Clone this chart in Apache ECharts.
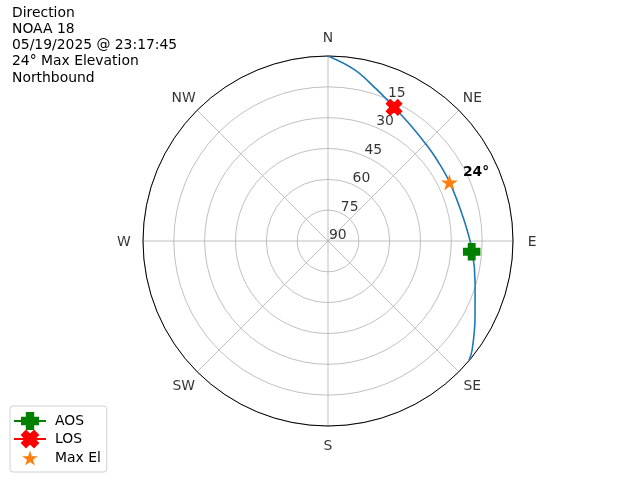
<!DOCTYPE html>
<html>
<head>
<meta charset="utf-8">
<script src="https://cdn.jsdelivr.net/npm/echarts@6/dist/echarts.min.js"></script>
<style>html,body{margin:0;padding:0;background:#fff}#c{width:640px;height:480px}</style>
</head>
<body>
<div id="c"></div>
<script>
// ---- data ----
const titleLines = ['Direction', 'NOAA 18', '05/19/2025 @ 23:17:45', '24° Max Elevation', 'Northbound'];
const directions = ['N', 'NE', 'E', 'SE', 'S', 'SW', 'W', 'NW'];
const directionAngles = [0, 45, 90, 135, 180, 225, 270, 315];
const radialTicks = [15, 30, 45, 60, 75, 90];
const trackAz = [0, 9, 17.1, 25.2, 36.4, 46.8, 53.4, 64.6, 79.9, 93.6, 105.9, 117.3, 127.1, 130.2];
const trackEl = [0, 5.8, 12.1, 16.9, 21.1, 23.2, 23.9, 24.3, 23.3, 19.8, 15.6, 9.5, 2.1, 0.2];
const markerNames = ['AOS', 'LOS', 'Max El'];
const markerAz = [94.3, 26.3, 64.2];
const markerEl = [19.9, 17.5, 24.4];
const maxElLabel = '24°';

// ---- styling ----
const FONT = 'DejaVu Sans';
const FS = 13.9;
const plusPath = 'path://M-1.2,-3L1.2,-3L1.2,-1.2L3,-1.2L3,1.2L1.2,1.2L1.2,3L-1.2,3L-1.2,1.2L-3,1.2L-3,-1.2L-1.2,-1.2Z';
const xPath = 'path://M-1,-2L0,-1L1,-2L2,-1L1,0L2,1L1,2L0,1L-1,2L-2,1L-1,0L-2,-1Z';
const starPath = 'path://M0,-1L0.2245,-0.309L0.951,-0.309L0.363,0.118L0.588,0.809L0,0.382L-0.588,0.809L-0.363,0.118L-0.951,-0.309L-0.2245,-0.309Z';
const starLegendPath = 'path://M-1.2,-1.3M1.2,1.11M0,-1L0.2245,-0.309L0.951,-0.309L0.363,0.118L0.588,0.809L0,0.382L-0.588,0.809L-0.363,0.118L-0.951,-0.309L-0.2245,-0.309Z';
const compassLabelRadius = -9.3; // elevation units just outside the rim
const radialLabelAngle = 22.5;

const chart = echarts.init(document.getElementById('c'), null, {renderer: 'canvas'});

const option = {
  animation: false,
  backgroundColor: '#ffffff',
  title: {
    text: titleLines.join('\n'),
    left: 12, top: 5, padding: 0,
    textStyle: {fontFamily: FONT, fontSize: FS, fontWeight: 'normal', color: '#000', lineHeight: 16.2}
  },
  legend: {
    data: ['AOS', 'LOS', {name: 'Max El', icon: starLegendPath}],
    orient: 'vertical',
    left: 10, bottom: 8,
    itemWidth: 32, itemHeight: 20, itemGap: 0,
    padding: [6, 6, 4, 3],
    borderColor: '#d0d0d0', borderWidth: 1, borderRadius: 3,
    backgroundColor: '#fff',
    textStyle: {fontFamily: FONT, fontSize: FS, color: '#000', padding: [0, 0, 0, 4]}
  },
  polar: {center: [328, 241], radius: 185},
  angleAxis: {
    type: 'value', min: 0, max: 360, interval: 45,
    startAngle: 90, clockwise: true, z: 1,
    axisLine: {lineStyle: {color: '#000', width: 1}},
    axisTick: {show: false},
    axisLabel: {show: false},
    splitLine: {lineStyle: {color: '#b0b0b0', width: 0.8}}
  },
  radiusAxis: {
    type: 'value', min: 0, max: 90, interval: 15, inverse: true, z: 0,
    axisLine: {show: false},
    axisTick: {show: false},
    axisLabel: {show: false},
    splitLine: {lineStyle: {color: '#b0b0b0', width: 0.8}}
  },
  series: [
    {
      name: 'compass', type: 'scatter', coordinateSystem: 'polar', silent: true, clip: false,
      symbolSize: 0,
      data: directions.map((d, i) => ({name: d, value: [compassLabelRadius, directionAngles[i]]})),
      label: {show: true, position: 'inside', offset: [0, 1.5], formatter: '{b}', color: '#000', fontFamily: FONT, fontSize: FS}
    },
    {
      name: 'rlabels', type: 'scatter', coordinateSystem: 'polar', silent: true, clip: false,
      symbolSize: 0,
      data: radialTicks.map(v => [v, radialLabelAngle]),
      label: {show: true, position: 'right', distance: 1, offset: [0, -5.5],
        formatter: p => String(p.value[0]), color: '#000', fontFamily: FONT, fontSize: FS}
    },
    {
      name: 'track', type: 'line', coordinateSystem: 'polar',
      data: trackEl.map((e, i) => [e, trackAz[i]]),
      showSymbol: false, smooth: 0.4, silent: true,
      lineStyle: {color: '#1f77b4', width: 1.6}
    },
    {
      name: markerNames[0], type: 'line', coordinateSystem: 'polar',
      data: [[markerEl[0], markerAz[0]]],
      symbol: plusPath, symbolSize: 16, showSymbol: true,
      itemStyle: {color: '#008000', borderColor: '#008000', borderWidth: 1.5, opacity: 1},
      lineStyle: {color: '#008000', width: 1.6}, z: 3
    },
    {
      name: markerNames[1], type: 'line', coordinateSystem: 'polar',
      data: [[markerEl[1], markerAz[1]]],
      symbol: xPath, symbolSize: 15, showSymbol: true,
      itemStyle: {color: '#ff0000', borderColor: '#ff0000', borderWidth: 1.5, opacity: 1},
      lineStyle: {color: '#ff0000', width: 1.6}, z: 3
    },
    {
      name: markerNames[2], type: 'scatter', coordinateSystem: 'polar',
      data: [[markerEl[2], markerAz[2]]],
      symbol: starPath, symbolSize: 17, symbolKeepAspect: true,
      itemStyle: {color: '#ff7f0e', opacity: 1}, z: 3,
      label: {show: true, formatter: maxElLabel, position: 'right', distance: 5, offset: [0, -9.5],
        color: '#000', fontFamily: FONT, fontSize: FS, fontWeight: 'bold'}
    }
  ]
};
chart.setOption(option);
</script>
</body>
</html>
